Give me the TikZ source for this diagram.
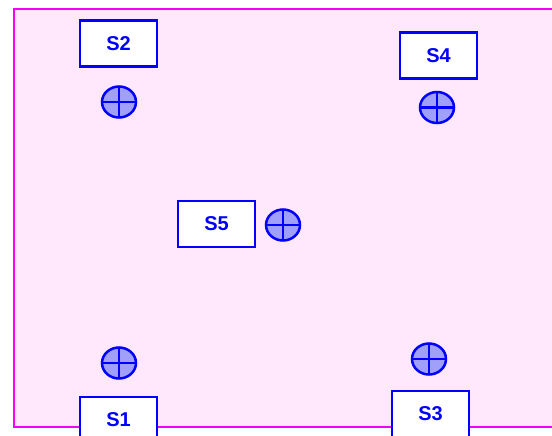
\documentclass[tikz,border=0pt]{standalone}
\usepackage{fontspec}
\setmainfont{Liberation Sans}
\usetikzlibrary{shapes.geometric}
\definecolor{bgpink}{RGB}{255,232,252}
\definecolor{edgemag}{RGB}{245,0,245}
\definecolor{mblue}{RGB}{0,0,255}
\definecolor{cfill}{RGB}{160,160,250}
\tikzset{
  sbox/.style={draw=mblue, line width=2.2pt, fill=white, minimum width=77pt, minimum height=46pt,
    inner sep=0pt, font=\fontsize{20}{23}\selectfont\bfseries, text=mblue},
  sym/.style={ellipse, draw=mblue, line width=2.5pt, fill=cfill, minimum width=34pt, minimum height=31pt,
    inner sep=0pt,
    path picture={\draw[mblue, line width=2.6pt] (path picture bounding box.north) -- (path picture bounding box.south)
      (path picture bounding box.west) -- (path picture bounding box.east);}},
  frame/.style={draw=edgemag, line width=2.2pt, fill=bgpink}
}
\begin{document}
\begin{tikzpicture}[x=1pt, y=-1pt]
\clip (0,0) rectangle (552,436);
\fill[white] (0,0) rectangle (552,436);
\draw[frame] (14,9) rectangle (570,427);
\node[sbox] (s2) at (118.5,43.5) {S2};
\node[sym] (c2) at (119,102) {};
\node[sbox] (s4) at (438.5,55.5) {S4};
\node[sym] (c4) at (437,107.5) {};
\node[sbox] (s5) at (216.5,224) {S5};
\node[sym] (c5) at (283,225) {};
\node[sym] (c1) at (119,363) {};
\node[sbox] (s1) at (118.5,420) {S1};
\node[sym] (c3) at (429,359) {};
\node[sbox] (s3) at (430.5,414) {S3};
\end{tikzpicture}
\end{document}
